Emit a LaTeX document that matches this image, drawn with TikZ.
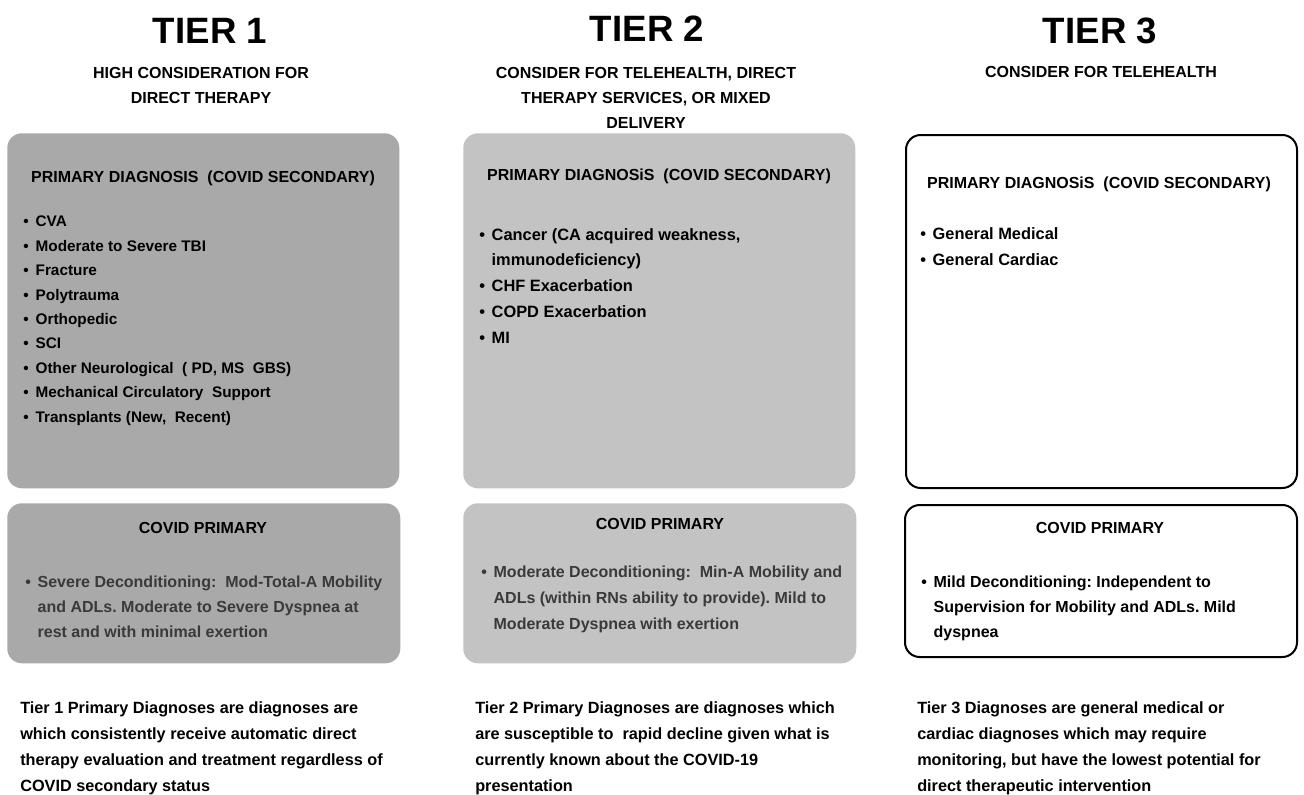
\documentclass[tikz,border=0pt]{standalone}
\usepackage{fontspec}
\setmainfont{Liberation Sans}
\usetikzlibrary{positioning}
\definecolor{GrayA}{HTML}{A9A9A9}
\definecolor{GrayB}{HTML}{C3C3C3}
\definecolor{TextG}{HTML}{3A3A3A}
\newcommand{\itemdot}{\makebox[9.3pt][l]{\textbullet}}
\newcommand{\itemgap}{\hspace*{9.3pt}}
\frenchspacing
\tikzset{
  panel/.style={rounded corners=11pt, anchor=north west, inner sep=0pt},
  tierA/.style={panel, fill=GrayA},
  tierB/.style={panel, fill=GrayB},
  tierC/.style={panel, fill=white, draw=black, line width=1.5pt},
  tiertitle/.style={font=\fontsize{27.5}{30}\selectfont\bfseries, anchor=base, inner sep=0pt},
  subtitle/.style={font=\fontsize{12}{18.75}\selectfont\bfseries, align=center, anchor=base, inner sep=0pt},
  head/.style={font=\fontsize{12}{14}\selectfont\bfseries, anchor=base, inner sep=0pt},
  list/.style 2 args={font=\fontsize{#1}{#2}\selectfont\bfseries, align=left, anchor=base west, inner sep=0pt},
  note/.style={font=\fontsize{12.2}{19.5}\selectfont\bfseries, align=left, anchor=base west, inner sep=0pt}
}
\begin{document}
\frenchspacing
\begin{tikzpicture}[x=0.75pt, y=-0.75pt]
  \useasboundingbox[fill=white] (0,0) rectangle (1304,794);

  % titles (multi-line nodes sit on their last baseline)
  \node[tiertitle] (t1) at (210,43) {TIER 1};
  \node[tiertitle] (t2) at (647,41) {TIER 2};
  \node[tiertitle] (t3) at (1100,43) {TIER 3};
  \node[subtitle] (s1) at (201,103) {HIGH CONSIDERATION FOR\\DIRECT THERAPY};
  \node[subtitle] (s2) at (646,128) {CONSIDER FOR TELEHEALTH, DIRECT\\THERAPY SERVICES, OR MIXED\\DELIVERY};
  \node[subtitle] (s3) at (1101,77) {CONSIDER FOR TELEHEALTH};

  % panels
  \node[tierA, minimum width=392*0.75pt, minimum height=355*0.75pt] (dx1) at (7,133) {};
  \node[tierA, minimum width=393*0.75pt, minimum height=160*0.75pt] (cv1) at (7,503) {};
  \node[tierB, minimum width=392*0.75pt, minimum height=355*0.75pt] (dx2) at (463,133) {};
  \node[tierB, minimum width=393*0.75pt, minimum height=160*0.75pt] (cv2) at (463,503) {};
  \node[tierC, minimum width=391*0.75pt, minimum height=353*0.75pt] (dx3) at (905,134) {};
  \node[tierC, minimum width=392*0.75pt, minimum height=152*0.75pt] (cv3) at (904,504) {};

  % primary diagnosis
  \node[head] (h1) at (203,182) {PRIMARY DIAGNOSIS\ \ (COVID SECONDARY)};
  \node[head] (h2) at (659,180) {PRIMARY DIAGNOSiS\ \ (COVID SECONDARY)};
  \node[head] (h3) at (1099,188) {PRIMARY DIAGNOSiS\ \ (COVID SECONDARY)};
  \node[list={11.5}{18.3}] (l1) at (23,422) {\itemdot CVA\\ \itemdot Moderate to Severe TBI\\ \itemdot Fracture\\
    \itemdot Polytrauma\\ \itemdot Orthopedic\\ \itemdot SCI\\ \itemdot Other Neurological\ \ ( PD, MS\ \ GBS)\\
    \itemdot Mechanical Circulatory\ \ Support\\ \itemdot Transplants (New,\ \ Recent)};
  \node[list={12.3}{19.3}] (l2) at (479,343) {\itemdot Cancer (CA acquired weakness,\\ \itemgap immunodeficiency)\\
    \itemdot CHF Exacerbation\\ \itemdot COPD Exacerbation\\ \itemdot MI};
  \node[list={12.3}{19.5}] (l3) at (920,265) {\itemdot General Medical\\ \itemdot General Cardiac};

  % covid primary
  \node[head] (c1) at (203,533) {COVID PRIMARY};
  \node[head] (c2) at (660,529) {COVID PRIMARY};
  \node[head] (c3) at (1100,533) {COVID PRIMARY};
  \node[list={12}{18.75}, text=TextG] (m1) at (25,637) {\itemdot Severe Deconditioning:\ \ Mod-Total-A Mobility\\
    \itemgap and ADLs. Moderate to Severe Dyspnea at\\ \itemgap rest and with minimal exertion};
  \node[list={12}{19.5}, text=TextG] (m2) at (481,629) {\itemdot Moderate Deconditioning:\ \ Min-A Mobility and\\
    \itemgap ADLs (within RNs ability to provide). Mild to\\ \itemgap Moderate Dyspnea with exertion};
  \node[list={12}{18.75}] (m3) at (921,637) {\itemdot Mild Deconditioning: Independent to\\
    \itemgap Supervision for Mobility and ADLs. Mild\\ \itemgap dyspnea};

  % notes
  \node[note] (n1) at (20,791) {Tier 1 Primary Diagnoses are diagnoses are\\which consistently receive automatic direct\\
    therapy evaluation and treatment regardless of\\COVID secondary status};
  \node[note] (n2) at (475,791) {Tier 2 Primary Diagnoses are diagnoses which\\are susceptible to\ \ rapid decline given what is\\
    currently known about the COVID-19\\presentation};
  \node[note] (n3) at (917,791) {Tier 3 Diagnoses are general medical or\\cardiac diagnoses which may require\\
    monitoring, but have the lowest potential for\\direct therapeutic intervention};
\end{tikzpicture}
\end{document}
